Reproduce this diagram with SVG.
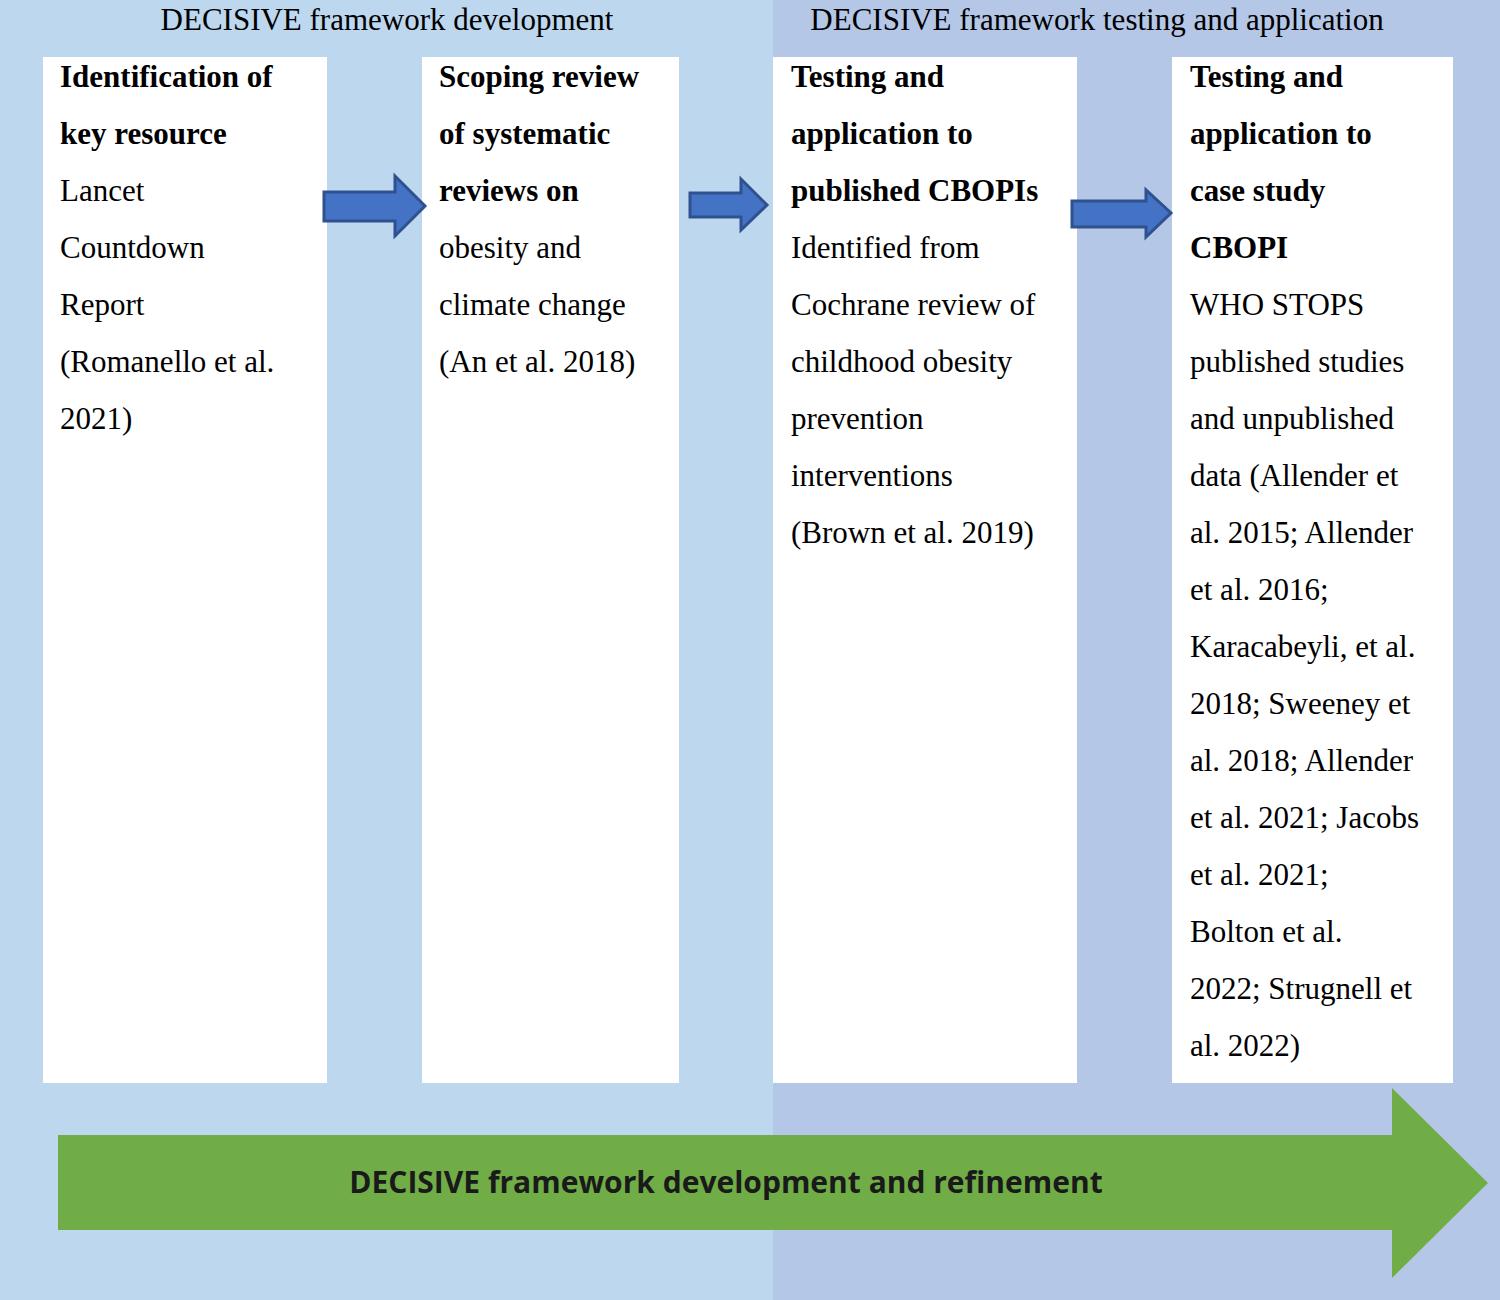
<svg xmlns="http://www.w3.org/2000/svg" width="1500" height="1300" viewBox="0 0 1500 1300">
<style>
.t{font-family:"Liberation Serif",serif;font-size:31px;fill:#000}
.b{font-weight:bold}
.box{fill:#fff}
.ba{fill:#4472C4;stroke:#2F528F;stroke-width:3}
</style>
<rect x="0" y="0" width="773" height="1300" fill="#BDD7EE"/>
<rect x="773" y="0" width="727" height="1300" fill="#B4C7E7"/>
<text class="t" x="387" y="30" text-anchor="middle">DECISIVE framework development</text>
<text class="t" x="1097" y="30" text-anchor="middle">DECISIVE framework testing and application</text>
<g id="n1"><rect class="box" x="43" y="57" width="284" height="1026"/>
<text class="t" x="60"><tspan class="b" x="60" y="87">Identification of</tspan><tspan class="b" x="60" y="144">key resource</tspan><tspan x="60" y="201">Lancet</tspan><tspan x="60" y="258">Countdown</tspan><tspan x="60" y="315">Report</tspan><tspan x="60" y="372">(Romanello et al.</tspan><tspan x="60" y="429">2021)</tspan></text></g>
<g id="n2"><rect class="box" x="422" y="57" width="257" height="1026"/>
<text class="t"><tspan class="b" x="439" y="87">Scoping review</tspan><tspan class="b" x="439" y="144">of systematic</tspan><tspan class="b" x="439" y="201">reviews on</tspan><tspan x="439" y="258">obesity and</tspan><tspan x="439" y="315">climate change</tspan><tspan x="439" y="372">(An et al. 2018)</tspan></text></g>
<g id="n3"><rect class="box" x="773" y="57" width="304" height="1026"/>
<text class="t"><tspan class="b" x="791" y="87">Testing and</tspan><tspan class="b" x="791" y="144">application to</tspan><tspan class="b" x="791" y="201">published CBOPIs</tspan><tspan x="791" y="258">Identified from</tspan><tspan x="791" y="315">Cochrane review of</tspan><tspan x="791" y="372">childhood obesity</tspan><tspan x="791" y="429">prevention</tspan><tspan x="791" y="486">interventions</tspan><tspan x="791" y="543">(Brown et al. 2019)</tspan></text></g>
<g id="n4"><rect class="box" x="1172" y="57" width="281" height="1026"/>
<text class="t"><tspan class="b" x="1190" y="87">Testing and</tspan><tspan class="b" x="1190" y="144">application to</tspan><tspan class="b" x="1190" y="201">case study</tspan><tspan class="b" x="1190" y="258">CBOPI</tspan><tspan x="1190" y="315">WHO STOPS</tspan><tspan x="1190" y="372">published studies</tspan><tspan x="1190" y="429">and unpublished</tspan><tspan x="1190" y="486">data (Allender et</tspan><tspan x="1190" y="543">al. 2015; Allender</tspan><tspan x="1190" y="600">et al. 2016;</tspan><tspan x="1190" y="657">Karacabeyli, et al.</tspan><tspan x="1190" y="714">2018; Sweeney et</tspan><tspan x="1190" y="771">al. 2018; Allender</tspan><tspan x="1190" y="828">et al. 2021; Jacobs</tspan><tspan x="1190" y="885">et al. 2021;</tspan><tspan x="1190" y="942">Bolton et al.</tspan><tspan x="1190" y="999">2022; Strugnell et</tspan><tspan x="1190" y="1056">al. 2022)</tspan></text></g>
<g id="connectors">
<polygon class="ba" points="324,192 395,192 395,176 425,206 395,236 395,221 324,221"/>
<polygon class="ba" points="690,193 741,193 741,179 767,205 741,230 741,217 690,217"/>
<polygon class="ba" points="1072,201 1146,201 1146,190 1171,213 1146,237 1146,227 1072,227"/>
</g>
<g id="progress">
<polygon fill="#70AD47" points="58,1135 1392,1135 1392,1088 1488,1183 1392,1278 1392,1230 58,1230"/>
<text x="726" y="1193" text-anchor="middle" style="font-family:'Open Sans',sans-serif;font-weight:bold;font-size:30px;fill:#1a1a1a">DECISIVE framework development and refinement</text>
</g>
</svg>
